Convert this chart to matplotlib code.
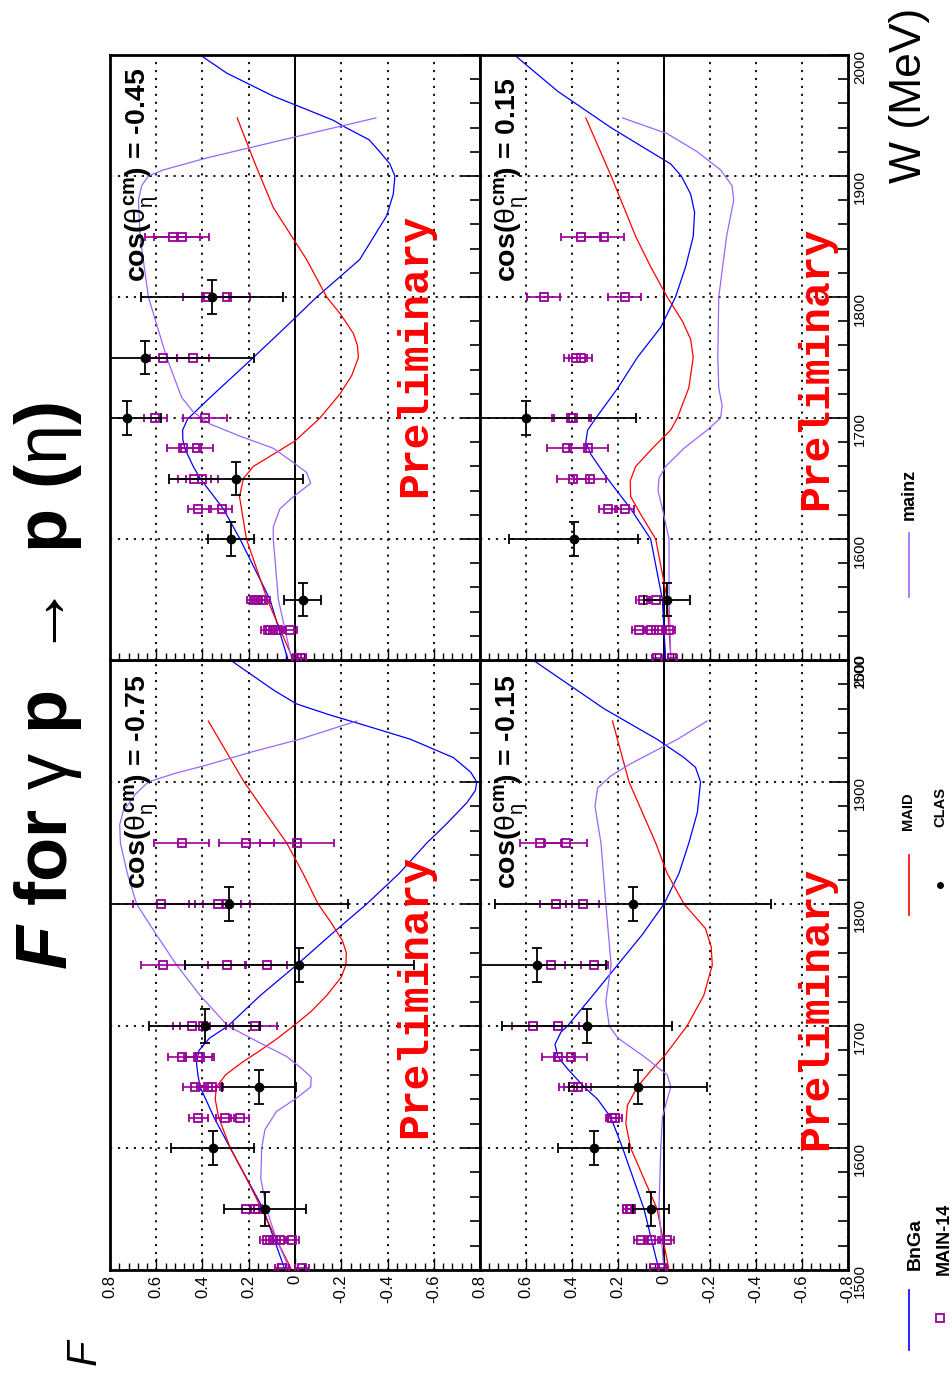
import matplotlib
matplotlib.use('Agg')
import matplotlib.pyplot as plt
from matplotlib.lines import Line2D
from matplotlib.ticker import MultipleLocator

# ---------------- data ----------------
# CLAS points, common W bins
W_CLAS = [1550, 1600, 1650, 1700, 1750, 1800]
W_CLAS_015 = [1550, 1600, 1700]
DW_CLAS = 14

F_CLAS_M075 = [0.13, 0.356, 0.156, 0.39, -0.019, 0.284]
DF_CLAS_M075 = [0.177, 0.18, 0.16, 0.24, 0.495, 0.515]
F_CLAS_M045 = [-0.033, 0.278, 0.255, 0.728, 0.648, 0.357]
DF_CLAS_M045 = [0.08, 0.10, 0.29, 0.15, 0.47, 0.307]
F_CLAS_M015 = [0.058, 0.306, 0.113, 0.335, 0.55, 0.134]
DF_CLAS_M015 = [0.078, 0.154, 0.30, 0.37, 0.30, 0.60]
F_CLAS_P015 = [-0.014, 0.393, 0.60]
DF_CLAS_P015 = [0.10, 0.28, 0.48]

# MAIN-14 points
W_MAIN_M075 = [1502, 1502, 1525, 1525, 1525, 1525, 1550, 1550, 1550, 1625, 1625, 1625,
               1650, 1650, 1650, 1675, 1675, 1675, 1700, 1700, 1700, 1750, 1750, 1750,
               1800, 1800, 1800, 1850, 1850, 1850]
F_MAIN_M075 = [0.058, -0.03, 0.123, 0.094, 0.065, 0.014, 0.21, 0.173, 0.159, 0.418, 0.303, 0.238,
               0.433, 0.375, 0.36, 0.49, 0.418, 0.41, 0.447, 0.397, 0.173, 0.57, 0.296, 0.123,
               0.58, 0.332, 0.296, 0.49, 0.21, -0.007]
DF_MAIN_M075 = [0.03, 0.03, 0.03, 0.03, 0.03, 0.03, 0.02, 0.02, 0.02, 0.04, 0.04, 0.04,
                0.05, 0.05, 0.05, 0.06, 0.06, 0.06, 0.08, 0.10, 0.095, 0.095, 0.08, 0.09,
                0.12, 0.10, 0.10, 0.118, 0.12, 0.16]

W_MAIN_M045 = [1502, 1502, 1525, 1525, 1525, 1525, 1550, 1550, 1550, 1625, 1625,
               1650, 1650, 1675, 1675, 1700, 1700, 1750, 1750, 1800, 1800, 1850, 1850]
F_MAIN_M045 = [-0.007, -0.029, 0.115, 0.094, 0.072, 0.022, 0.177, 0.158, 0.137, 0.418, 0.317,
               0.435, 0.403, 0.483, 0.425, 0.605, 0.389, 0.569, 0.44, 0.385, 0.295, 0.529, 0.49]
DF_MAIN_M045 = [0.02, 0.02, 0.03, 0.03, 0.03, 0.03, 0.03, 0.03, 0.03, 0.045, 0.045,
                0.07, 0.07, 0.07, 0.07, 0.05, 0.094, 0.058, 0.07, 0.10, 0.10, 0.12, 0.12]

W_MAIN_M015 = [1502, 1502, 1525, 1525, 1525, 1550, 1550, 1625, 1625, 1650, 1650,
               1675, 1675, 1700, 1700, 1750, 1750, 1800, 1800, 1850, 1850]
F_MAIN_M015 = [0.043, 0.007, 0.10, 0.058, -0.014, 0.159, 0.145, 0.224, 0.214, 0.397, 0.376,
               0.46, 0.405, 0.57, 0.46, 0.49, 0.303, 0.47, 0.354, 0.538, 0.426]
DF_MAIN_M015 = [0.02, 0.02, 0.03, 0.03, 0.03, 0.02, 0.02, 0.03, 0.03, 0.06, 0.06,
                0.07, 0.07, 0.09, 0.09, 0.06, 0.06, 0.07, 0.07, 0.09, 0.09]

W_MAIN_P015 = [1502, 1502, 1525, 1525, 1525, 1525, 1550, 1550, 1625, 1625, 1650, 1650,
               1675, 1675, 1700, 1700, 1750, 1750, 1800, 1800, 1850, 1850]
F_MAIN_P015 = [0.03, -0.036, 0.108, 0.058, 0.022, -0.02, 0.09, 0.036, 0.243, 0.171, 0.397, 0.321,
               0.422, 0.329, 0.405, 0.397, 0.383, 0.361, 0.523, 0.17, 0.361, 0.26]
DF_MAIN_P015 = [0.02, 0.02, 0.03, 0.03, 0.03, 0.03, 0.03, 0.03, 0.04, 0.04, 0.07, 0.07,
                0.085, 0.085, 0.08, 0.08, 0.05, 0.05, 0.072, 0.072, 0.085, 0.085]

# model curves  (W, F)
W_BNGA_M075 = [1500, 1550, 1600, 1625, 1650, 1660, 1670, 1680, 1690, 1700, 1725, 1750, 1775,
               1800, 1825, 1850, 1866, 1883, 1893, 1900, 1908, 1920, 1935, 1946, 1955, 1964,
               1975, 1985, 2000]
F_BNGA_M075 = [0.043, 0.137, 0.28, 0.35, 0.41, 0.42, 0.426, 0.415, 0.37, 0.29, 0.15, -0.007,
               -0.156, -0.31, -0.45, -0.57, -0.657, -0.743, -0.78, -0.786, -0.76, -0.685, -0.5,
               -0.31, -0.15, -0.007, 0.09, 0.166, 0.28]
W_MAID_M075 = [1500, 1525, 1550, 1575, 1600, 1625, 1640, 1650, 1660, 1670, 1680, 1690, 1700,
               1712, 1725, 1740, 1750, 1760, 1770, 1785, 1800, 1825, 1850, 1900, 1950]
F_MAID_M075 = [0.014, 0.08, 0.144, 0.21, 0.28, 0.33, 0.345, 0.34, 0.30, 0.23, 0.15, 0.075,
               0.007, -0.07, -0.137, -0.2, -0.22, -0.222, -0.205, -0.155, -0.10, -0.035, 0.036,
               0.22, 0.375]
W_MAINZ_M075 = [1500, 1525, 1550, 1575, 1600, 1615, 1630, 1640, 1650, 1658, 1665, 1675, 1686,
                1700, 1725, 1750, 1775, 1800, 1825, 1850, 1865, 1876, 1890, 1900, 1907, 1914,
                1925, 1935, 1950]
F_MAINZ_M075 = [0.022, 0.08, 0.123, 0.148, 0.144, 0.13, 0.08, 0.0, -0.068, -0.07, -0.03, 0.036,
                0.15, 0.29, 0.41, 0.512, 0.60, 0.685, 0.725, 0.755, 0.758, 0.743, 0.69, 0.635,
                0.52, 0.38, 0.18, -0.02, -0.267]

W_BNGA_M045 = [1500, 1550, 1600, 1625, 1650, 1660, 1674, 1682, 1690, 1699, 1717, 1750, 1776,
               1800, 1831, 1867, 1885, 1900, 1910, 1920, 1930, 1940, 1946, 1955, 1966, 1985, 2000]
F_BNGA_M045 = [0.03, 0.108, 0.238, 0.31, 0.41, 0.44, 0.475, 0.485, 0.486, 0.465, 0.367, 0.18,
               0.036, -0.094, -0.28, -0.396, -0.425, -0.432, -0.41, -0.367, -0.32, -0.22,
               -0.166, -0.05, 0.094, 0.295, 0.41]
W_MAID_M045 = [1500, 1550, 1600, 1635, 1650, 1660, 1670, 1681, 1700, 1720, 1735, 1750, 1760,
               1770, 1785, 1800, 1831, 1848, 1874, 1907, 1948]
F_MAID_M045 = [0.007, 0.12, 0.21, 0.24, 0.223, 0.18, 0.094, 0.0, -0.108, -0.195, -0.245,
               -0.274, -0.27, -0.252, -0.2, -0.137, -0.05, 0.007, 0.094, 0.166, 0.25]
W_MAINZ_M045 = [1500, 1550, 1600, 1610, 1625, 1635, 1646, 1655, 1665, 1675, 1685, 1695, 1705,
                1717, 1750, 1800, 1850, 1880, 1892, 1900, 1905, 1915, 1930, 1948]
F_MAINZ_M045 = [0.014, 0.072, 0.094, 0.094, 0.065, 0.007, -0.068, -0.05, 0.02, 0.094, 0.238,
                0.367, 0.44, 0.49, 0.555, 0.634, 0.67, 0.677, 0.663, 0.634, 0.57, 0.38, 0.05,
                -0.35]

W_BNGA_M015 = [1500, 1550, 1600, 1625, 1640, 1650, 1665, 1675, 1685, 1695, 1700, 1725, 1750,
               1775, 1800, 1825, 1850, 1875, 1900, 1912, 1920, 1935, 1960, 2000]
F_BNGA_M015 = [0.022, 0.087, 0.18, 0.231, 0.289, 0.347, 0.42, 0.462, 0.474, 0.448, 0.42, 0.31,
               0.202, 0.094, 0.0, -0.065, -0.108, -0.145, -0.159, -0.137, -0.087, 0.03, 0.26,
               0.57]
W_MAID_M015 = [1500, 1550, 1600, 1620, 1635, 1650, 1665, 1675, 1700, 1725, 1750, 1765, 1780,
               1800, 1825, 1850, 1900, 1950]
F_MAID_M015 = [-0.022, 0.03, 0.145, 0.166, 0.159, 0.116, 0.05, 0.0, -0.1, -0.173, -0.21,
               -0.205, -0.18, -0.087, -0.014, 0.036, 0.152, 0.224]
W_MAINZ_M015 = [1500, 1550, 1600, 1625, 1640, 1650, 1660, 1675, 1690, 1700, 1720, 1750, 1800,
                1850, 1880, 1895, 1905, 1915, 1935, 1950]
F_MAINZ_M015 = [0.0, 0.022, 0.014, 0.007, -0.014, -0.03, -0.014, 0.087, 0.2, 0.238, 0.253,
                0.23, 0.253, 0.274, 0.30, 0.289, 0.231, 0.145, -0.058, -0.188]

W_BNGA_P015 = [1500, 1550, 1600, 1625, 1650, 1670, 1680, 1690, 1700, 1725, 1750, 1775, 1800,
               1825, 1850, 1870, 1885, 1900, 1910, 1920, 1940, 1970, 2000]
F_BNGA_P015 = [-0.007, 0.007, 0.058, 0.145, 0.246, 0.318, 0.34, 0.332, 0.296, 0.2, 0.116,
               0.014, -0.05, -0.094, -0.127, -0.133, -0.116, -0.075, -0.029, 0.058, 0.231,
               0.462, 0.65]
W_MAID_P015 = [1500, 1550, 1600, 1620, 1635, 1648, 1660, 1675, 1690, 1700, 1725, 1750, 1765,
               1780, 1800, 1825, 1850, 1900, 1948]
F_MAID_P015 = [-0.03, -0.014, 0.036, 0.1, 0.145, 0.147, 0.123, 0.05, -0.029, -0.058, -0.108,
               -0.127, -0.116, -0.08, -0.014, 0.058, 0.123, 0.23, 0.34]
W_MAINZ_P015 = [1500, 1550, 1600, 1625, 1640, 1650, 1660, 1675, 1690, 1700, 1710, 1725, 1750,
                1800, 1850, 1880, 1892, 1905, 1920, 1935, 1948]
F_MAINZ_P015 = [-0.03, -0.022, -0.022, 0.007, 0.026, 0.022, -0.007, -0.087, -0.188, -0.246,
                -0.253, -0.238, -0.234, -0.238, -0.272, -0.303, -0.296, -0.246, -0.145, -0.014,
                0.18]

COS_LABELS = ['-0.75', '-0.45', '-0.15', '0.15']

BLUE = '#0000ff'
RED = '#ff0000'
VIOLET = '#9966ff'
MAGENTA = '#990099'

W_PX, H_PX = 953, 1376

plt.rcParams['font.family'] = ['Liberation Sans', 'DejaVu Sans']
plt.rcParams['mathtext.fontset'] = 'custom'
plt.rcParams['mathtext.rm'] = 'Liberation Sans:bold'
plt.rcParams['mathtext.it'] = 'Liberation Sans'
plt.rcParams['mathtext.bf'] = 'Liberation Sans:bold'
plt.rcParams['mathtext.sf'] = 'Liberation Sans:italic:bold'
plt.rcParams['axes.unicode_minus'] = False


def fpos(x, y):
    """pixel position (from top-left) -> figure fraction"""
    return x / W_PX, 1 - y / H_PX


def f_label(v, pos):
    if abs(v) < 1e-9:
        return '0'
    return f'{v:.1f}'


def f_label_left(v, pos):
    # the -0.8 of the left column sits under the 0.8 of the right one
    if v < -0.79:
        return ''
    return f_label(v, pos)


def draw_panel(ax, clas, main, bnga, maid, mainz, cos_text, prelim_at, xlabels, ylabels, xfmt):
    ax.set_xlim(0.8, -0.8)
    ax.set_ylim(1500, 2000)

    ax.xaxis.set_major_locator(MultipleLocator(0.2))
    ax.xaxis.set_minor_locator(MultipleLocator(0.04))
    ax.yaxis.set_major_locator(MultipleLocator(100))
    ax.yaxis.set_minor_locator(MultipleLocator(20))
    ax.xaxis.set_major_formatter(xfmt)
    ax.yaxis.set_major_formatter(lambda v, p: f'{v:.0f}')

    ax.grid(True, which='major', color='black', ls=(0, (1.2, 3.2)), lw=1.3)
    ax.axvline(0, color='black', lw=1.4, zorder=1.5)

    ax.plot(bnga[1], bnga[0], color=BLUE, lw=0.9)
    ax.plot(maid[1], maid[0], color=RED, lw=0.9)
    ax.plot(mainz[1], mainz[0], color=VIOLET, lw=0.9)

    ax.errorbar(main[1], main[0], xerr=main[2], fmt='s', ms=6, mfc='none', mec=MAGENTA,
                mew=1.3, ecolor=MAGENTA, elinewidth=1.2, capsize=3, capthick=1.2, zorder=4)
    ax.errorbar(clas[1], clas[0], xerr=clas[2], yerr=DW_CLAS, fmt='o', ms=6, color='black',
                elinewidth=1.3, capsize=3.5, capthick=1.3, zorder=5)

    ax.tick_params(axis='x', which='both', direction='in', bottom=True, top=False,
                   labelbottom=xlabels, labelrotation=90, labelsize=12, width=1)
    ax.tick_params(axis='y', which='both', direction='in', left=False, right=True,
                   labelleft=False, labelright=ylabels, labelrotation=90, labelsize=11, width=1.2)
    ax.tick_params(which='major', length=9)
    ax.tick_params(which='minor', length=5)
    ax.tick_params(axis='y', which='major', length=14)
    ax.tick_params(axis='y', which='minor', length=7)
    for sp in ax.spines.values():
        sp.set_linewidth(2)

    ax.text(0.665, 1812, r'cos($\theta_{\eta}^{\mathrm{cm}}$) = ' + cos_text, rotation=90,
            ha='center', va='bottom', fontsize=20.5, fontweight='bold')
    ax.text(prelim_at[0], prelim_at[1], 'Preliminary', rotation=90, ha='center', va='bottom',
            fontsize=31, fontweight='bold', color=RED, family='Liberation Mono')


fig = plt.figure(figsize=(W_PX / 100, H_PX / 100), dpi=100)

lx, lw_ = 110 / W_PX, 370 / W_PX
rx, rw = 480 / W_PX, 368 / W_PX
tb, th = 1 - 660 / H_PX, 605 / H_PX
bb, bh = 1 - 1270 / H_PX, 610 / H_PX

ax_m075 = fig.add_axes([lx, bb, lw_, bh])
ax_m045 = fig.add_axes([lx, tb, lw_, th])
ax_m015 = fig.add_axes([rx, bb, rw, bh])
ax_p015 = fig.add_axes([rx, tb, rw, th])

draw_panel(ax_m075, (W_CLAS, F_CLAS_M075, DF_CLAS_M075),
           (W_MAIN_M075, F_MAIN_M075, DF_MAIN_M075),
           (W_BNGA_M075, F_BNGA_M075), (W_MAID_M075, F_MAID_M075), (W_MAINZ_M075, F_MAINZ_M075),
           COS_LABELS[0], (-0.52, 1608), True, False, f_label_left)
draw_panel(ax_m045, (W_CLAS, F_CLAS_M045, DF_CLAS_M045),
           (W_MAIN_M045, F_MAIN_M045, DF_MAIN_M045),
           (W_BNGA_M045, F_BNGA_M045), (W_MAID_M045, F_MAID_M045), (W_MAINZ_M045, F_MAINZ_M045),
           COS_LABELS[1], (-0.52, 1635), False, False, f_label_left)
draw_panel(ax_m015, (W_CLAS, F_CLAS_M015, DF_CLAS_M015),
           (W_MAIN_M015, F_MAIN_M015, DF_MAIN_M015),
           (W_BNGA_M015, F_BNGA_M015), (W_MAID_M015, F_MAID_M015), (W_MAINZ_M015, F_MAINZ_M015),
           COS_LABELS[2], (-0.66, 1598), True, True, f_label)
draw_panel(ax_p015, (W_CLAS_015, F_CLAS_P015, DF_CLAS_P015),
           (W_MAIN_P015, F_MAIN_P015, DF_MAIN_P015),
           (W_BNGA_P015, F_BNGA_P015), (W_MAID_P015, F_MAID_P015), (W_MAINZ_P015, F_MAINZ_P015),
           COS_LABELS[3], (-0.66, 1624), False, True, f_label)

# title and axis titles
fig.text(*fpos(48, 970), r'$\mathsf{F}$ for $\gamma$ p $\rightarrow$ p ($\eta$)', rotation=90,
         ha='center', va='bottom', fontsize=52, fontweight='bold')
fig.text(*fpos(910, 8), 'W (MeV)', rotation=90, ha='center', va='top', fontsize=32)
fig.text(*fpos(85, 1352), 'F', rotation=90, ha='center', va='center', fontsize=30,
         fontstyle='italic')


# legend (drawn by hand, the page is turned on its side)
def leg_line(x, y0, y1, color):
    fig.add_artist(Line2D([x / W_PX, x / W_PX], [1 - y0 / H_PX, 1 - y1 / H_PX],
                          transform=fig.transFigure, color=color, lw=1.2))


def leg_text(x, y, s, size):
    fig.text(*fpos(x, y), s, rotation=90, ha='center', va='bottom', fontsize=size,
             fontweight='bold')


leg_line(909, 1290, 1350, BLUE)
leg_text(915, 1270, 'BnGa', 14)
fig.add_artist(Line2D([940 / W_PX], [1 - 1318 / H_PX], transform=fig.transFigure, marker='s',
                      ms=6, mfc='none', mec=MAGENTA, mew=1.3))
leg_text(944, 1275, 'MAIN-14', 13)
leg_line(909, 855, 915, RED)
leg_text(908, 830, 'MAID', 10.5)
fig.add_artist(Line2D([940 / W_PX], [1 - 885 / H_PX], transform=fig.transFigure, marker='o',
                      ms=4, color='black'))
leg_text(940, 827, 'CLAS', 10.5)
leg_line(909, 533, 597, VIOLET)
leg_text(909, 520, 'mainz', 13)

fig.savefig('out.png', dpi=100)
